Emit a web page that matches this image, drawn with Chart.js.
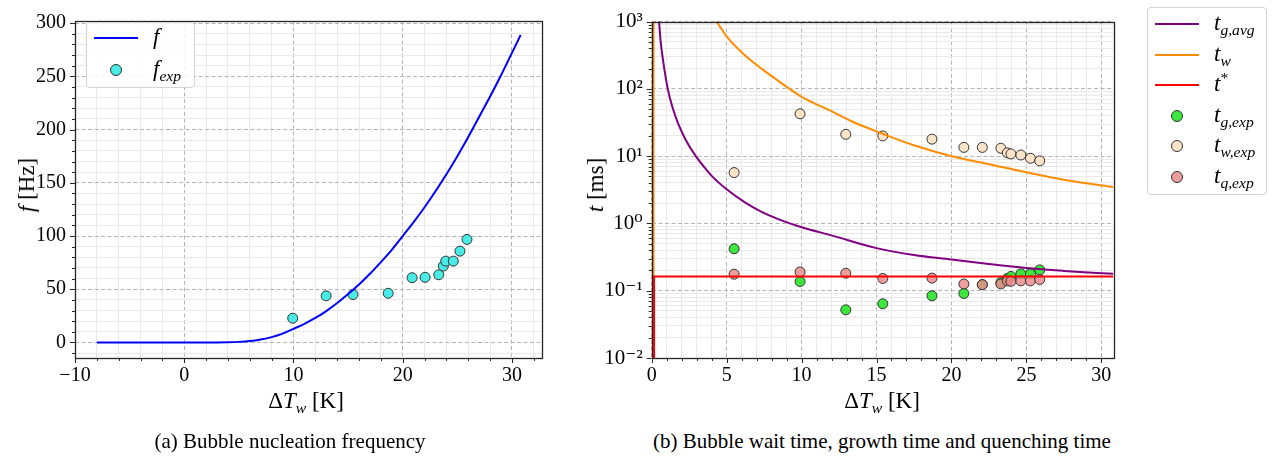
<!DOCTYPE html>
<html>
<head>
<meta charset="utf-8">
<script src="https://cdn.jsdelivr.net/npm/chart.js@4.4.1/dist/chart.umd.min.js"></script>
<style>
    body { margin: 0; width: 1282px; height: 461px; background: #fff; position: relative; overflow: hidden;
           font-family: 'Liberation Serif', 'DejaVu Serif', serif; color: #000; }
    canvas { position: absolute; top: 0; }
    .lbl { position: absolute; transform: translate(-50%, -50%); white-space: nowrap; font-size: 23px; }
    .rot { transform: translate(-50%, -50%) rotate(-90deg); }
    .cap { position: absolute; transform: translate(-50%, -50%); white-space: nowrap; font-size: 21px; }
    .m sub, .m sup { font-size: 0.68em; line-height: 0; }
    .m sub { vertical-align: -0.32em; }
    .m sup { vertical-align: 0.5em; }
    .legend { position: absolute; background: rgba(255,255,255,0.85); border: 1px solid #d4d4d4; border-radius: 4px; }
    .legend .row { position: absolute; left: 0; right: 0; height: 0; }
    .legend .ln { position: absolute; left: 7px; width: 44px; height: 2px; top: -1px; }
    .legend .dot { position: absolute; left: 23px; top: -6px; width: 10px; height: 10px; border-radius: 50%; border: 1px solid #333; }
    .legend .txt { position: absolute; left: 66px; top: -13px; font-size: 23px; line-height: 24px; white-space: nowrap; }
</style>
</head>
<body>
<canvas id="freqChart" width="570" height="415" style="left:0px"></canvas>
<canvas id="timeChart" width="560" height="415" style="left:590px"></canvas>

<div class="lbl rot m" style="left:27px; top:185px"><i>f</i> [Hz]</div>
<div class="lbl m" style="left:306px; top:401px">Δ<i>T</i><sub><i>w</i></sub> [K]</div>
<div class="lbl rot m" style="left:596px; top:185px"><i>t</i> [ms]</div>
<div class="lbl m" style="left:882px; top:401px">Δ<i>T</i><sub><i>w</i></sub> [K]</div>

<div class="cap" style="left:290px; top:441px">(a) Bubble nucleation frequency</div>
<div class="cap" style="left:882px; top:441px">(b) Bubble wait time, growth time and quenching time</div>

<div id="legendA" class="legend" style="left:86px; top:22px; width:107px; height:64px"></div>
<div id="legendB" class="legend" style="left:1147px; top:7px; width:118px; height:186px"></div>

<script>
// ---- data ----
// (a) nucleation frequency model curve and measurements
const fCurveDT = [-8, -6, -4, -2, 0, 2, 3, 4, 5, 6, 7, 8, 9, 10, 11, 12, 13, 14, 15, 16, 17, 18, 19, 20,
                  21, 22, 23, 24, 25, 26, 27, 28, 29, 30, 30.8];
const fCurve = [0, 0, 0, 0, 0, 0.02, 0.06, 0.2, 0.55, 1.3, 2.8, 5.0, 8.3, 12.8, 17.5, 23, 29.5, 37, 45.5, 54.5,
                64.5, 75.5, 87, 100, 113, 127, 142, 158, 175, 193, 212, 231, 251, 272, 289];
const fExpDT = [9.93, 12.99, 15.45, 18.67, 20.86, 22.05, 23.3, 23.72, 23.94, 24.63, 25.24, 25.88];
const fExp = [22.8, 43.8, 45, 46.2, 60.8, 61.2, 63.6, 71.8, 76.4, 76.4, 85.8, 96.8];

// (b) growth / wait / quenching times [ms]
const tgAvgDT = [0.42, 0.49, 0.6, 0.78, 1.07, 1.4, 1.78, 2.3, 2.93, 3.5, 4.0, 5, 6.22, 7.3, 8.44, 10, 12, 15,
                 17.5, 20, 22.5, 25, 27.5, 30.8];
const tgAvg = [1300, 980, 500, 245, 100, 52, 30, 17, 10.1, 6.9, 5.1, 3.22, 2.06, 1.5, 1.16, 0.879, 0.665, 0.43,
               0.339, 0.291, 0.249, 0.217, 0.197, 0.178];
const twPoleDT = [0.1, 0.1];            // singular branch at the left edge
const twPole = [0.0001, 100000];
const twDT = [4.0, 4.33, 5.11, 6.22, 7.33, 8.89, 10, 11.78, 13.33, 15.33, 17.5, 20, 22.5, 25, 27.5, 30.8];
const tw = [1300, 1000, 562, 316, 200, 112, 76, 49, 33, 21.9, 14.5, 10, 7.6, 5.75, 4.47, 3.47];
const tStarDT = [0.16, 0.16, 30.8];
const tStar = [0.0001, 0.163, 0.163];

const expDT = [5.5, 9.9, 12.95, 15.42, 18.7, 20.83, 22.06, 23.3, 23.73, 23.97, 24.63, 25.27, 25.89];
const tgExp = [0.42, 0.137, 0.052, 0.064, 0.084, 0.091, 0.123, 0.132, 0.152, 0.163, 0.178, 0.178, 0.204];
const twExp = [5.7, 42.6, 21.1, 20, 17.9, 13.5, 13.5, 13.1, 11.2, 10.8, 10.4, 9.3, 8.5];
const tqExp = [0.176, 0.19, 0.182, 0.152, 0.154, 0.126, 0.123, 0.126, 0.14, 0.138, 0.14, 0.14, 0.147];

// ticks
const freqXMajor = [-10, 0, 10, 20, 30];
const freqYMajor = [0, 50, 100, 150, 200, 250, 300];
const timeXMajor = [0, 5, 10, 15, 20, 25, 30];
const timeYMajor = [0.01, 0.1, 1, 10, 100, 1000];
const timeYLabels = ['10⁻²', '10⁻¹', '10⁰', '10¹', '10²', '10³'];

const pts = (xs, ys) => xs.map((x, i) => ({ x: x, y: ys[i] }));

document.addEventListener('DOMContentLoaded', () => {
    const FONT = { family: "'Liberation Serif', 'DejaVu Serif', serif", size: 20 };
    const MAJOR_GRID = '#b4b4b4';
    const MINOR_GRID = '#e9e9e9';

    // 1. helper: tick list with major / minor flags
    function tickList(from, to, step, majors) {
        const out = [];
        for (let v = from; v <= to + 1e-9; v += step) {
            const val = Math.round(v * 1000) / 1000;
            out.push({ value: val, isMajor: majors.includes(val) });
        }
        return out;
    }
    function logTickList(majors) {
        const out = [];
        majors.forEach((d, i) => {
            out.push({ value: d, isMajor: true });
            if (i < majors.length - 1) {
                for (let k = 2; k <= 9; k++) out.push({ value: d * k, isMajor: false });
            }
        });
        return out;
    }

    const gridOpts = {
        drawTicks: false,
        color: c => (c.tick && c.tick.isMajor) ? MAJOR_GRID : MINOR_GRID,
        lineWidth: 1
    };
    const borderOpts = {
        display: false,
        dash: c => (c.tick && c.tick.isMajor) ? [4, 2.5] : []
    };

    // 2. frame + matplotlib style tick marks (left/bottom only)
    const frameTicks = {
        id: 'frameTicks',
        afterDatasetsDraw(chart) {
            const { ctx, chartArea: a, scales } = chart;
            ctx.save();
            ctx.strokeStyle = '#262626';
            ctx.lineWidth = 1;
            ctx.beginPath();
            scales.x.ticks.forEach(t => {
                const px = Math.round(scales.x.getPixelForValue(t.value)) + 0.5;
                ctx.moveTo(px, a.bottom);
                ctx.lineTo(px, a.bottom + (t.isMajor ? 5 : 3));
            });
            scales.y.ticks.forEach(t => {
                const py = Math.round(scales.y.getPixelForValue(t.value)) + 0.5;
                ctx.moveTo(a.left, py);
                ctx.lineTo(a.left - (t.isMajor ? 5 : 3), py);
            });
            ctx.stroke();
            ctx.lineWidth = 1.3;
            ctx.strokeRect(Math.round(a.left) + 0.5, Math.round(a.top) + 0.5,
                           Math.round(a.width), Math.round(a.height));
            ctx.restore();
        }
    };

    // smooth curves use monotone splines (computed in pixel space, so fine on the log axis)
    const lineSet = (label, data, color, order, smooth, width) => ({
        label, data, showLine: true, borderColor: color, borderWidth: width || 2,
        pointRadius: 0, pointHoverRadius: 0, fill: false, spanGaps: false, order,
        cubicInterpolationMode: smooth ? 'monotone' : 'default', tension: 0
    });
    const dotSet = (label, data, color, order) => ({
        label, data, showLine: false, backgroundColor: color, borderColor: '#333',
        borderWidth: 1, pointRadius: 5, pointHoverRadius: 5, order
    });

    const common = {
        responsive: false,
        animation: false,
        events: [],
        plugins: { legend: { display: false }, tooltip: { enabled: false } }
    };

    // 3. (a) nucleation frequency
    new Chart(document.getElementById('freqChart'), {
        type: 'scatter',
        data: {
            datasets: [
                lineSet('f', pts(fCurveDT, fCurve), '#0000ff', 0, true),
                dotSet('f_exp', pts(fExpDT, fExp), '#48ece6', 1)
            ]
        },
        options: {
            ...common,
            layout: { padding: { top: 13, right: 28, left: 0, bottom: 0 } },
            scales: {
                x: {
                    type: 'linear', min: -10, max: 32.75,
                    afterBuildTicks: ax => { ax.ticks = tickList(-10, 32, 2, freqXMajor); },
                    afterFit: ax => { ax.height = 57; },
                    grid: gridOpts, border: borderOpts,
                    ticks: {
                        autoSkip: false, maxRotation: 0, padding: 6, color: '#000', font: FONT,
                        callback: (v, i, ticks) => ticks[i].isMajor ? (v < 0 ? '\u2212' + Math.abs(v) : String(v)) : ''
                    }
                },
                y: {
                    type: 'linear', min: -14.6, max: 302,
                    afterBuildTicks: ax => { ax.ticks = tickList(-10, 300, 10, freqYMajor); },
                    afterFit: ax => { ax.width = 75; },
                    grid: gridOpts, border: borderOpts,
                    ticks: {
                        autoSkip: false, padding: 9, color: '#000', font: FONT,
                        callback: (v, i, ticks) => ticks[i].isMajor ? String(v) : ''
                    }
                }
            }
        },
        plugins: [frameTicks]
    });

    // 4. (b) times on log axis
    new Chart(document.getElementById('timeChart'), {
        type: 'scatter',
        data: {
            datasets: [
                lineSet('t_g,avg', pts(tgAvgDT, tgAvg), '#800080', 3, true),
                lineSet('t_w', pts(twDT, tw), '#ff8c00', 2, true),
                lineSet('t_w pole', pts(twPoleDT, twPole), '#ff8c00', 1, false, 2.6),
                lineSet('t*', pts(tStarDT, tStar), '#ff0000', 0, false),
                dotSet('t_g,exp', pts(expDT, tgExp), 'rgba(40,228,40,0.9)', 6),
                dotSet('t_w,exp', pts(expDT, twExp), '#fce4c9', 5),
                dotSet('t_q,exp', pts(expDT, tqExp), 'rgba(236,140,140,0.85)', 4)
            ]
        },
        options: {
            ...common,
            layout: { padding: { top: 13, right: 36.7, left: 0, bottom: 0 } },
            scales: {
                x: {
                    type: 'linear', min: 0, max: 30.8,
                    afterBuildTicks: ax => { ax.ticks = tickList(0, 30, 1, timeXMajor); },
                    afterFit: ax => { ax.height = 57; },
                    grid: gridOpts, border: borderOpts,
                    ticks: {
                        autoSkip: false, maxRotation: 0, padding: 6, color: '#000', font: FONT,
                        callback: (v, i, ticks) => ticks[i].isMajor ? String(v) : ''
                    }
                },
                y: {
                    type: 'logarithmic', min: 0.01, max: 1000,
                    afterBuildTicks: ax => { ax.ticks = logTickList(timeYMajor); },
                    afterFit: ax => { ax.width = 61.7; },
                    grid: gridOpts, border: borderOpts,
                    ticks: {
                        autoSkip: false, padding: 9, color: '#000', font: { ...FONT, size: 21 },
                        callback: (v, i, ticks) => ticks[i].isMajor ? timeYLabels[timeYMajor.indexOf(ticks[i].value)] : ''
                    }
                }
            }
        },
        plugins: [frameTicks]
    });

    // 5. legends (math labels need sub/superscripts, so they are HTML)
    const legendA = [
        { kind: 'line', color: '#0000ff', html: '<i>f</i>' },
        { kind: 'dot', color: '#48ece6', html: '<i>f</i><sub><i>exp</i></sub>' }
    ];
    const legendB = [
        { kind: 'line', color: '#800080', html: '<i>t</i><sub><i>g,avg</i></sub>' },
        { kind: 'line', color: '#ff8c00', html: '<i>t</i><sub><i>w</i></sub>' },
        { kind: 'line', color: '#ff0000', html: '<i>t</i><sup>*</sup>' },
        { kind: 'dot', color: 'rgba(40,228,40,0.9)', html: '<i>t</i><sub><i>g,exp</i></sub>' },
        { kind: 'dot', color: '#fce4c9', html: '<i>t</i><sub><i>w,exp</i></sub>' },
        { kind: 'dot', color: 'rgba(236,140,140,0.85)', html: '<i>t</i><sub><i>q,exp</i></sub>' }
    ];
    function buildLegend(el, items, firstY, stepY) {
        items.forEach((it, i) => {
            const row = document.createElement('div');
            row.className = 'row';
            row.style.top = (firstY + i * stepY) + 'px';
            const mark = it.kind === 'line'
                ? `<div class="ln" style="background:${it.color}"></div>`
                : `<div class="dot" style="background:${it.color}"></div>`;
            row.innerHTML = mark + `<div class="txt m">${it.html}</div>`;
            el.appendChild(row);
        });
    }
    buildLegend(document.getElementById('legendA'), legendA, 15, 32);
    buildLegend(document.getElementById('legendB'), legendB, 16, 30.5);
});
</script>
</body>
</html>
